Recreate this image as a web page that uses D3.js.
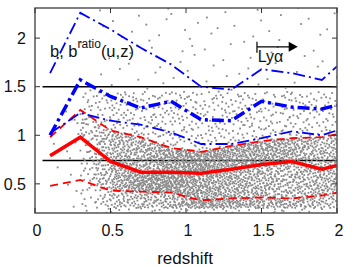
<!DOCTYPE html>
<html><head><meta charset="utf-8">
<script src="https://cdn.jsdelivr.net/npm/d3@7"></script>
<style>body{margin:0;background:#fff}svg{display:block}text{font-family:"Liberation Sans",Arial,sans-serif;fill:#111}</style>
</head><body><div id="c"></div>
<script>
// redshift nodes of the binned curves
const zNodes   = [0.1, 0.3, 0.5, 0.7, 0.9, 1.1, 1.3, 1.5, 1.7, 1.9, 2.0];
// b (red): median and percentiles
const bMed     = [0.79, 0.98, 0.73, 0.62, 0.62, 0.61, 0.65, 0.70, 0.73, 0.65, 0.69];
const bLo      = [0.48, 0.54, 0.43, 0.42, 0.41, 0.33, 0.35, 0.36, 0.35, 0.38, 0.41];
const bHi      = [0.98, 1.26, 1.05, 0.98, 0.87, 0.83, 0.89, 0.94, 0.97, 0.98, 1.01];
// b^ratio(u,z) (blue): median and percentiles
const rMed     = [1.00, 1.57, 1.40, 1.28, 1.35, 1.16, 1.15, 1.35, 1.29, 1.27, 1.31];
const rLo      = [1.02, 1.23, 1.15, 1.11, 1.03, 0.91, 0.91, 0.97, 1.04, 1.00, 1.05];
const rHi      = [1.64, 2.26, 2.09, 1.90, 1.73, 1.50, 1.47, 1.68, 1.64, 1.57, 1.71];
// reference levels
const refLevels = [1.5, 0.74];
// scatter cloud: estimated number of objects per 0.1-wide redshift bin
const binCenters = [0.05,0.15,0.25,0.35,0.45,0.55,0.65,0.75,0.85,0.95,1.05,1.15,1.25,1.35,1.45,1.55,1.65,1.75,1.85,1.95];
const binCounts  = [0, 2, 12, 80, 150, 200, 220, 240, 250, 260, 260, 250, 240, 230, 220, 210, 200, 190, 180, 170];
// estimated cloud tails: values at cumulative fractions 0, 0.03 and 0.975, 1
const tailLow = [0.10, 0.25], tailHigh = [1.45, 2.45];
const xTicks = [0, 0.5, 1, 1.5, 2];
const yTicks = [0.5, 1, 1.5, 2];

const W = 356, H = 267;
const x = d3.scaleLinear().domain([0, 2]).range([35, 337]);
const y = d3.scaleLinear().domain([0.2, 2.31]).range([213, 8]);
const svg = d3.select("#c").append("svg").attr("width", W).attr("height", H);

svg.append("clipPath").attr("id", "clip").append("rect")
  .attr("x", x(0)).attr("y", y(2.31)).attr("width", x(2) - x(0)).attr("height", y(0.2) - y(2.31));
const plot = svg.append("g").attr("clip-path", "url(#clip)");

// reference lines
plot.selectAll("line.ref").data(refLevels).join("line").attr("class", "ref")
  .attr("x1", x(0.05)).attr("x2", x(2)).attr("y1", d => y(d)).attr("y2", d => y(d))
  .attr("stroke", "#000").attr("stroke-width", 1.6);

// scatter cloud (deterministic low-discrepancy placement inside each bin)
function halton(i, b) { let f = 1, r = 0; while (i > 0) { f /= b; r += f * (i % b); i = Math.floor(i / b); } return r; }
const interp = arr => d3.scaleLinear().domain(zNodes).range(arr).clamp(true);
const fMed = interp(bMed), fLo = interp(bLo), fHi = interp(bHi);
const pts = [];
let g = 0;
binCenters.forEach((zc, k) => {
  for (let j = 0; j < binCounts[k]; j++) {
    g++;
    const zx = zc - 0.05 + 0.1 * halton(g, 2);
    const u = halton(g, 3);
    const q = d3.scaleLinear().domain([0, 0.03, 0.16, 0.5, 0.84, 0.975, 1])
      .range([tailLow[0], tailLow[1], fLo(zx), fMed(zx), fHi(zx), tailHigh[0], tailHigh[1]]);
    pts.push([zx, q(u)]);
  }
});
plot.selectAll("rect.pt").data(pts).join("rect").attr("class", "pt")
  .attr("x", d => x(d[0]) - 0.9).attr("y", d => y(d[1]) - 0.9).attr("width", 1.8).attr("height", 1.8)
  .attr("fill", "#888");

// curves
const line = d3.line().x(d => x(d[0])).y(d => y(d[1]));
const curves = [
  {v: bLo, c: "#ff0000", w: 1.8, dash: "8,5"},
  {v: bHi, c: "#ff0000", w: 1.8, dash: "8,5"},
  {v: bMed, c: "#ff0000", w: 3.5, dash: null},
  {v: rLo, c: "#0000ff", w: 1.8, dash: "12,4,2,4"},
  {v: rHi, c: "#0000ff", w: 1.8, dash: "12,4,2,4"},
  {v: rMed, c: "#0000ff", w: 3.5, dash: "12,4,3,4"}
];
curves.forEach(cv => {
  plot.append("path").datum(zNodes.map((z, i) => [z, cv.v[i]]))
    .attr("d", line).attr("fill", "none").attr("stroke", cv.c).attr("stroke-width", cv.w)
    .attr("stroke-dasharray", cv.dash);
});

// frame and ticks
svg.append("rect").attr("x", x(0)).attr("y", y(2.31)).attr("width", x(2) - x(0)).attr("height", y(0.2) - y(2.31))
  .attr("fill", "none").attr("stroke", "#555").attr("stroke-width", 1.5);
const tl = 5;
xTicks.forEach(t => {
  svg.append("line").attr("x1", x(t)).attr("x2", x(t)).attr("y1", y(0.2)).attr("y2", y(0.2) - tl).attr("stroke", "#333");
  svg.append("line").attr("x1", x(t)).attr("x2", x(t)).attr("y1", y(2.31)).attr("y2", y(2.31) + tl).attr("stroke", "#333");
  svg.append("text").attr("x", x(t) + 2).attr("y", 236).attr("text-anchor", "middle").attr("font-size", 16).text(t);
});
yTicks.forEach(t => {
  svg.append("line").attr("x1", x(0)).attr("x2", x(0) + tl).attr("y1", y(t)).attr("y2", y(t)).attr("stroke", "#333");
  svg.append("line").attr("x1", x(2)).attr("x2", x(2) - tl).attr("y1", y(t)).attr("y2", y(t)).attr("stroke", "#333");
  svg.append("text").attr("x", 26).attr("y", y(t)).attr("dy", "0.36em").attr("text-anchor", "end").attr("font-size", 16).text(t);
});
svg.append("text").attr("x", 185).attr("y", 264).attr("text-anchor", "middle").attr("font-size", 17).text("redshift");

// legend label
const lg = svg.append("text").attr("x", 50).attr("y", 57).attr("font-size", 16.5);
lg.append("tspan").text("b,  b");
lg.append("tspan").attr("font-size", 12).attr("dy", -9).text("ratio");
lg.append("tspan").attr("dy", 9).text("(u,z)");

// Ly-alpha annotation
const ay = y(1.91);
svg.append("line").attr("x1", x(1.47)).attr("x2", x(1.47)).attr("y1", ay - 5).attr("y2", ay + 6).attr("stroke", "#000").attr("stroke-width", 1.2);
svg.append("line").attr("x1", x(1.47)).attr("x2", x(1.69)).attr("y1", ay).attr("y2", ay).attr("stroke", "#000").attr("stroke-width", 1.2);
svg.append("path").attr("d", `M${x(1.68)},${ay - 5}L${x(1.74)},${ay}L${x(1.68)},${ay + 5}Z`).attr("fill", "#000");
svg.append("text").attr("x", x(1.475)).attr("y", 62).attr("font-size", 16).attr("fill", "#2a2418").text("Lyα");
</script></body></html>
